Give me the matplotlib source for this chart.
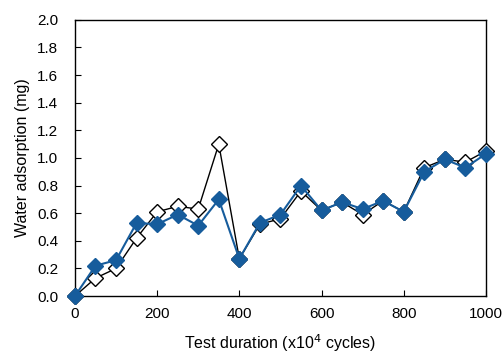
import matplotlib
matplotlib.use("Agg")
import matplotlib.pyplot as plt

plt.rcParams['font.family'] = ['Liberation Sans', 'DejaVu Sans']

cycles = [0, 50, 100, 150, 200, 250, 300, 350, 400, 450, 500,
          550, 600, 650, 700, 750, 800, 850, 900, 950, 1000]
open_series = [0.0, 0.13, 0.20, 0.42, 0.61, 0.65, 0.63, 1.10, 0.27, 0.52, 0.56,
               0.76, 0.62, 0.68, 0.59, 0.69, 0.61, 0.93, 0.99, 0.97, 1.05]
filled_series = [0.0, 0.22, 0.26, 0.53, 0.52, 0.59, 0.51, 0.70, 0.27, 0.53, 0.59,
                 0.80, 0.62, 0.68, 0.63, 0.69, 0.61, 0.90, 0.99, 0.93, 1.03]
yticks = [0.0, 0.2, 0.4, 0.6, 0.8, 1.0, 1.2, 1.4, 1.6, 1.8, 2.0]
xticks = [0, 200, 400, 600, 800, 1000]

fig = plt.figure(figsize=(5.03, 3.55), dpi=100)
ax = fig.add_axes([0.149, 0.166, 0.817, 0.778])

blue = '#165c9c'
ax.plot(cycles, open_series, color='black', lw=1.0, marker='D', ms=7.8,
        mfc='white', mec='black', mew=1.0, zorder=3, clip_on=False)
ax.plot(cycles, filled_series, color=blue, lw=1.5, marker='D', ms=7.8,
        mfc=blue, mec=blue, zorder=4, clip_on=False)

ax.set_xlim(0, 1000)
ax.set_ylim(0, 2.0)
ax.set_xticks(xticks)
ax.set_yticks(yticks)
ax.set_yticklabels([f"{v:.1f}" for v in yticks])
ax.tick_params(direction='in', length=4, labelsize=11, colors='black', width=0.8)
ax.tick_params(axis='x', pad=8)
ax.tick_params(axis='y', pad=12)
for s in ax.spines.values():
    s.set_linewidth(1.0)
ax.set_xlabel('Test duration (x10$^4$ cycles)', fontsize=11.5, labelpad=8)
ax.set_ylabel('Water adsorption (mg)', fontsize=11.5, labelpad=5)

fig.savefig('out.png', dpi=100)
